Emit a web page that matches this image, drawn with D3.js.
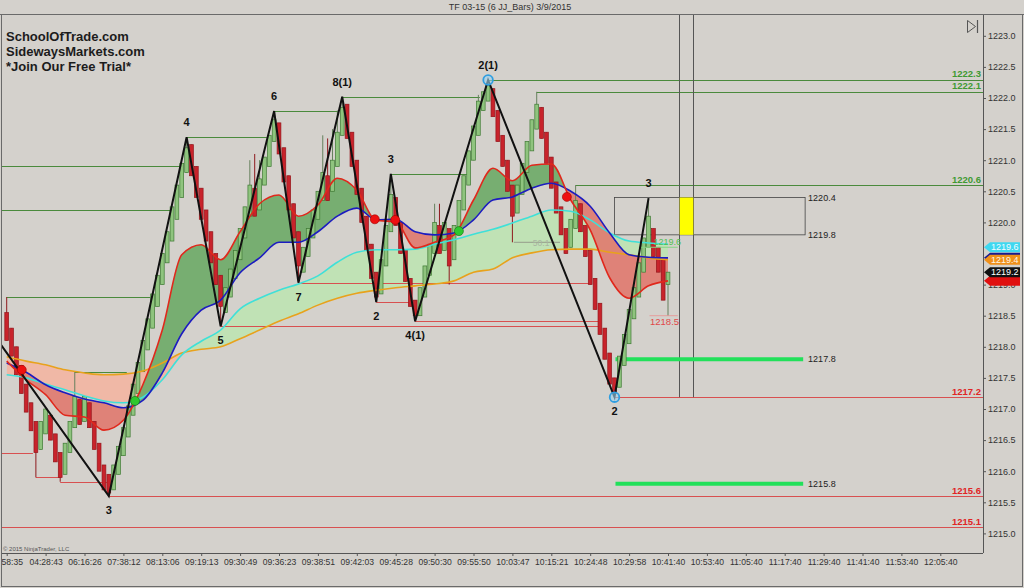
<!DOCTYPE html>
<html><head><meta charset="utf-8">
<script src="https://cdn.jsdelivr.net/npm/d3@7"></script>
<style>
html,body{margin:0;padding:0;background:#d4d1cc;}
svg{display:block;}
text{font-family:"Liberation Sans",Arial,sans-serif;}
</style></head><body>
<svg id="chart" width="1024" height="588"></svg>
<script>
// ---------------- DATA ----------------
const timeLabels = ["58:35","04:28:43","06:16:26","07:38:12","08:13:06","09:19:13","09:30:49","09:36:23","09:38:51","09:42:03","09:45:28","09:50:30","09:55:50","10:03:47","10:15:21","10:24:48","10:29:58","10:41:40","10:53:40","11:05:40","11:17:40","11:29:40","11:41:40","11:53:40","12:05:40"];
const tickBars = [0,8,16,24,32,40,48,56,64,72,80,88,96,104,112,120,128,136,144,152,160,168,176,184,192];
const priceTicks = [1215.0,1215.5,1216.0,1216.5,1217.0,1217.5,1218.0,1218.5,1219.0,1220.0,1220.5,1221.0,1221.5,1222.0,1222.5,1223.0];

const barOpen = [
1218.55,1218.30,1218.00,1217.70,1217.40,1217.10,1216.80,1216.35,1216.60,1216.90,
1216.60,1216.30,1215.95,1216.30,1216.70,1217.15,1216.80,1217.10,1216.80,1216.45,
1216.10,1215.95,1215.70,1215.95,1216.25,1216.55,1216.90,1217.25,1217.60,1217.95,
1218.30,1218.65,1219.00,1219.35,1219.70,1220.05,1220.40,1220.80,1221.25,1220.90,
1220.55,1220.20,1219.85,1219.50,1219.15,1218.55,1218.80,1219.10,1219.40,1219.75,
1220.10,1220.55,1220.20,1220.60,1220.90,1221.30,1221.60,1221.20,1220.75,1220.30,
1219.85,1219.20,1219.45,1219.75,1220.05,1220.35,1220.75,1220.50,1220.90,1221.40,
1221.90,1221.45,1221.00,1220.55,1220.10,1219.65,1219.20,1218.85,1219.30,1219.85,
1220.40,1220.00,1219.55,1219.10,1218.75,1218.50,1218.80,1219.15,1219.50,1219.95,
1219.55,1219.90,1219.40,1219.80,1220.20,1220.60,1221.00,1221.40,1221.80,1221.95,
1222.15,1221.80,1221.40,1221.00,1220.60,1220.15,1220.45,1220.80,1221.15,1221.50,
1221.85,1221.45,1221.05,1220.65,1220.25,1219.90,1219.60,1219.90,1220.30,1219.95,
1219.55,1219.10,1218.70,1218.30,1217.90,1217.50,1217.35,1217.70,1218.05,1218.45,
1218.80,1219.20,1219.60,1219.90,1219.60,1219.40,1219.00];
const barClose = [
1218.10,1217.85,1217.55,1217.25,1216.95,1216.65,1216.30,1216.80,1217.00,1216.50,
1216.15,1215.90,1216.45,1216.80,1217.20,1216.75,1217.20,1216.70,1216.35,1216.00,
1215.70,1215.65,1216.10,1216.40,1216.70,1217.05,1217.40,1217.75,1218.10,1218.45,
1218.85,1219.15,1219.50,1219.85,1220.25,1220.60,1220.95,1221.20,1220.75,1220.40,
1220.05,1219.70,1219.35,1219.00,1218.65,1218.95,1219.25,1219.55,1219.90,1220.25,
1220.60,1220.10,1220.70,1221.05,1221.40,1221.65,1221.10,1220.65,1220.20,1219.75,
1219.30,1219.60,1219.90,1220.20,1220.50,1220.80,1220.35,1221.00,1221.45,1221.85,
1221.35,1220.90,1220.45,1220.00,1219.55,1219.10,1218.80,1219.40,1219.95,1220.45,
1219.95,1219.50,1219.05,1218.65,1218.50,1218.95,1219.30,1219.65,1220.00,1219.50,
1220.00,1219.30,1219.95,1220.35,1220.75,1221.15,1221.55,1221.95,1222.10,1222.20,
1221.70,1221.30,1220.90,1220.50,1220.10,1220.60,1220.95,1221.30,1221.65,1221.90,
1221.35,1220.95,1220.55,1220.15,1219.80,1219.50,1220.05,1220.35,1219.85,1219.45,
1219.00,1218.60,1218.20,1217.80,1217.40,1217.25,1217.85,1218.20,1218.60,1218.95,
1219.35,1219.75,1220.10,1219.45,1219.20,1218.75,1219.20];
const wickBar  = [0,6,11,14,21,37,44,50,51,52,55,60,65,66,67,68,69,76,79,84,88,89,91,97,99,104,109,117,125,132,136];
const wickLow  = [1218.10,1215.90,1215.83,1216.70,1215.60,1220.80,1218.33,1220.10,1220.10,1220.20,1221.30,1219.03,1220.35,1220.35,1220.50,1220.90,1221.40,1218.72,1219.85,1218.41,1219.50,1219.50,1219.00,1221.40,1221.95,1219.68,1221.50,1219.90,1217.19,1219.60,1218.50];
const wickHigh = [1218.80,1216.80,1216.30,1217.60,1215.95,1221.37,1219.15,1221.00,1221.10,1221.00,1221.79,1219.85,1221.40,1221.35,1221.50,1221.80,1222.02,1219.20,1220.78,1218.75,1220.30,1220.30,1219.90,1222.05,1222.29,1220.60,1222.10,1220.60,1217.50,1220.39,1219.20];

const maBars   = [0,4,8,12,16,20,24,28,32,36,40,44,48,52,56,60,64,68,72,76,80,84,88,92,96,100,104,108,112,116,120,124,128,132,136];
const maRed    = [1217.77,1217.47,1217.23,1216.90,1216.87,1216.66,1216.82,1217.39,1218.27,1219.48,1219.64,1219.40,1219.85,1220.30,1220.44,1220.10,1220.28,1220.71,1220.52,1220.03,1220.01,1219.59,1219.68,1219.80,1220.36,1220.87,1220.67,1220.92,1220.94,1220.36,1219.88,1219.11,1218.78,1218.98,1219.06];
const maBlue   = [1217.74,1217.59,1217.39,1217.26,1217.16,1217.10,1217.02,1217.14,1217.58,1218.21,1218.59,1218.75,1219.19,1219.43,1219.68,1219.68,1219.85,1220.10,1220.23,1220.04,1220.05,1219.85,1219.80,1219.83,1220.04,1220.36,1220.41,1220.55,1220.63,1220.50,1220.26,1219.83,1219.48,1219.44,1219.43];
const maCyan   = [1217.55,1217.50,1217.40,1217.31,1217.21,1217.13,1217.10,1217.19,1217.47,1217.87,1218.09,1218.27,1218.61,1218.78,1218.91,1219.01,1219.14,1219.36,1219.52,1219.56,1219.56,1219.57,1219.65,1219.72,1219.81,1219.89,1219.99,1220.10,1220.20,1220.18,1220.04,1219.83,1219.70,1219.67,1219.65];
const maOrange = [1217.84,1217.77,1217.71,1217.63,1217.58,1217.55,1217.56,1217.61,1217.74,1217.90,1217.96,1218.00,1218.13,1218.27,1218.41,1218.53,1218.67,1218.78,1218.86,1218.91,1218.95,1218.98,1219.01,1219.06,1219.20,1219.25,1219.43,1219.51,1219.56,1219.57,1219.57,1219.52,1219.48,1219.43,1219.40];

const zzBars   = [-4,21,37,44,55,60,69,76,79,84,99,125,132];
const zzPrices = [1218.34,1215.60,1221.37,1218.33,1221.79,1219.03,1222.02,1218.72,1220.78,1218.41,1222.29,1217.19,1220.39];
const zzLabels = ["","3","4","5","6","7","8(1)","2","3","4(1)","2(1)","2","3"];

const slPrice = [1220.9,1220.2,1218.8,1217.6,1221.37,1221.79,1222.02,1220.78,1222.29,1222.1,1220.6, 1216.3,1215.9,1215.83,1215.6,1215.1,1218.33,1219.03,1218.72,1218.41,1217.19];
const slFrom  = [-3,-3,0,14,37,55,69,79,99,109,117, -3,6,11,21,-3,44,60,76,84,125];
const slTo    = [35.6,34.0,29.5,24.7,53.5,68.1,97.3,95,null,null,null, 5.4,11,21,null,null,122,120,83,122,null];
const slKind  = ["up","up","up","up","up","up","up","up","up","up","up","dn","dn","dn","dn","dn","dn","dn","dn","dn","dn"];

const redDotBars = [3.1,75.7,79.9,115.2];
const redDotPrices = [1217.63,1220.05,1220.04,1220.41];
const greenDotBars = [26.4,93.0];
const greenDotPrices = [1217.13,1219.86];
const pivotBars = [99,125];
const pivotPrices = [1222.29,1217.19];

const boxBars = [125,164.2];
const boxPrices = [1220.4,1219.8];
const targetPrices = [1217.8,1215.8];
const targetBars = [125.2,163.8];
const cursorBars = [138.3,141.1];
const cursorLow = 1217.19;

// right-axis price markers (blue and red sit under the others, their text is hidden)
const tagPrices = [1219.43,1219.6,1219.4,1219.06,1219.2];
const tagFill   = ["#1a1a90","#3fd8f0","#f0901a","#e01010","#111111"];
const tagText   = [null,"#f4fbff","#fff6e8",null,"#ffffff"];

// ---------------- LAYOUT ----------------
const P = {l:2, r:983, t:14, b:553};
const svg = d3.select("#chart");
const x = d3.scaleLinear().domain([0,192]).range([6.7,940.3]);
const y = d3.scaleLinear().domain([1215,1223]).range([533.4,35.8]);
const xEnd = x.invert(P.r);
const FONT = '"Liberation Sans",Arial,sans-serif';

svg.append("rect").attr("width",1024).attr("height",588).attr("fill","#d4d1cc");
const defs = svg.append("defs");
defs.append("clipPath").attr("id","plotClip").append("rect")
  .attr("x",P.l).attr("y",P.t).attr("width",P.r-P.l).attr("height",P.b-P.t);
const plot = svg.append("g").attr("clip-path","url(#plotClip)");

function bandFill(A, B, upColor, dnColor, id, op){
  const pts = maBars.map((b,i)=>({b, a:A[i], c:B[i]}));
  const curve = d3.curveMonotoneX;
  const ax = d => x(d.b);
  defs.append("clipPath").attr("id",id+"U").append("path")
    .attr("d", d3.area().x(ax).y0(P.t-10).y1(d=>y(d.c)).curve(curve)(pts));
  defs.append("clipPath").attr("id",id+"D").append("path")
    .attr("d", d3.area().x(ax).y0(P.t-10).y1(d=>y(d.a)).curve(curve)(pts));
  plot.append("g").attr("clip-path",`url(#${id}U)`).append("path")
    .attr("d", d3.area().x(ax).y0(d=>y(d.a)).y1(P.b+10).curve(curve)(pts))
    .attr("fill", upColor).attr("opacity",op);
  plot.append("g").attr("clip-path",`url(#${id}D)`).append("path")
    .attr("d", d3.area().x(ax).y0(d=>y(d.c)).y1(P.b+10).curve(curve)(pts))
    .attr("fill", dnColor).attr("opacity",op);
}
bandFill(maCyan, maOrange, "#c0e2b5", "#f0b8a6", "co", 1);
bandFill(maRed, maBlue, "#6aa864", "#e0766c", "rb", 0.88);

// swing lines
slPrice.forEach((p,i)=>{
  const x2 = slTo[i]===null ? xEnd : slTo[i];
  plot.append("line")
    .attr("x1",x(slFrom[i])).attr("x2",x(x2))
    .attr("y1",Math.round(y(p))+0.5).attr("y2",Math.round(y(p))+0.5)
    .attr("stroke", slKind[i]==="up" ? "#4a8a3c" : "#d85050").attr("stroke-width",1);
  if (slTo[i]===null){
    svg.append("text").attr("x",981).attr("y",y(p)-2.5).attr("text-anchor","end")
      .attr("font-size",9.5).attr("font-weight","bold").attr("font-family",FONT)
      .attr("fill", slKind[i]==="up" ? "#3f9a32" : "#e02424").text(p.toFixed(1));
  }
});

plot.append("line").attr("x1",x(104.3)).attr("x2",x(113.8)).attr("y1",y(1219.68)).attr("y2",y(1219.68))
  .attr("stroke","#8a8a80").attr("stroke-width",0.8);
plot.append("text").attr("x",x(108.2)).attr("y",y(1219.68)+3.5).attr("font-size",8.5).attr("fill","#a9b5a2").text("50.1");

// price box, cursor lines, yellow block, targets
plot.append("rect").attr("x",x(boxBars[0])).attr("y",y(boxPrices[0]))
  .attr("width",x(boxBars[1])-x(boxBars[0])).attr("height",y(boxPrices[1])-y(boxPrices[0]))
  .attr("fill","none").attr("stroke","#444").attr("stroke-width",0.8);
cursorBars.forEach(b=>{
  plot.append("line").attr("x1",Math.round(x(b))+0.5).attr("x2",Math.round(x(b))+0.5)
    .attr("y1",P.t).attr("y2",y(cursorLow)).attr("stroke","#555").attr("stroke-width",1);
});
plot.append("rect").attr("x",x(cursorBars[0])+0.5).attr("y",y(boxPrices[0]))
  .attr("width",x(cursorBars[1])-x(cursorBars[0])).attr("height",y(boxPrices[1])-y(boxPrices[0]))
  .attr("fill","#ffff00");
targetPrices.forEach(p=>{
  plot.append("line").attr("x1",x(targetBars[0])).attr("x2",x(targetBars[1]))
    .attr("y1",y(p)).attr("y2",y(p)).attr("stroke","#22e05a").attr("stroke-width",4);
});
boxPrices.concat(targetPrices).forEach(p=>{
  svg.append("text").attr("x",x(boxBars[1])+3).attr("y",y(p)+3.2)
    .attr("font-size",9).attr("font-family",FONT).attr("fill","#222").text(p.toFixed(1));
});

// bars
const bars = barOpen.map((o,i)=>({i,o,c:barClose[i],h:Math.max(o,barClose[i]),l:Math.min(o,barClose[i])}));
wickBar.forEach((b,k)=>{ bars[b].h = wickHigh[k]; bars[b].l = wickLow[k]; });
const bw = 3.8;
plot.append("g").selectAll("line").data(bars).join("line")
  .attr("x1",d=>x(d.i)).attr("x2",d=>x(d.i)).attr("y1",d=>y(d.h)).attr("y2",d=>y(d.l))
  .attr("stroke",d=>d.c>=d.o ? "#66805e" : "#8e1a1e").attr("stroke-width",1);
plot.append("g").selectAll("rect").data(bars).join("rect")
  .attr("x",d=>x(d.i)-bw/2).attr("width",bw)
  .attr("y",d=>y(Math.max(d.o,d.c))).attr("height",d=>Math.max(1,y(Math.min(d.o,d.c))-y(Math.max(d.o,d.c))))
  .attr("fill",d=>d.c>=d.o ? "#8fc47e" : "#c8232b")
  .attr("stroke",d=>d.c>=d.o ? "#3f7a34" : "#94161c").attr("stroke-width",0.7);

// moving averages
const maLine = arr => d3.line().x((d,i)=>x(maBars[i])).y(d=>y(d)).curve(d3.curveMonotoneX)(arr);
[[maOrange,"#e8a21c"],[maCyan,"#3fe0d8"],[maBlue,"#1c1cc0"],[maRed,"#e0281c"]].forEach(([arr,col])=>{
  plot.append("path").attr("d",maLine(arr)).attr("fill","none").attr("stroke",col).attr("stroke-width",1.6);
});

plot.append("line").attr("x1",x(130)).attr("x2",x(138)).attr("y1",y(1219.6)).attr("y2",y(1219.6))
  .attr("stroke","#86d486").attr("stroke-width",1);
plot.append("text").attr("x",x(133)).attr("y",y(1219.6)-2).attr("font-size",9).attr("fill","#52c052").text("1219.6");
plot.append("line").attr("x1",x(132.2)).attr("x2",x(138)).attr("y1",y(1218.5)).attr("y2",y(1218.5))
  .attr("stroke","#e89090").attr("stroke-width",0.8);
plot.append("text").attr("x",x(132.3)).attr("y",y(1218.5)+9).attr("font-size",9.5).attr("fill","#e04848").text("1218.5");

// zigzag
const zz = zzBars.map((b,i)=>({b,p:zzPrices[i],t:zzLabels[i]}));
plot.append("path").attr("d",d3.line().x(d=>x(d.b)).y(d=>y(d.p))(zz))
  .attr("fill","none").attr("stroke","#111").attr("stroke-width",2);
zz.forEach((d,i)=>{
  if(!d.t) return;
  const up = d.p > zz[i-1].p;
  svg.append("text").attr("x",x(d.b)).attr("y",up ? y(d.p)-11 : y(d.p)+18)
    .attr("text-anchor","middle").attr("font-size",11).attr("font-weight","bold")
    .attr("font-family",FONT).attr("fill","#111").text(d.t);
});

// dots
redDotBars.forEach((b,i)=>plot.append("circle").attr("cx",x(b)).attr("cy",y(redDotPrices[i])).attr("r",4.5)
  .attr("fill","#ee1010").attr("stroke","#a00000").attr("stroke-width",0.6));
greenDotBars.forEach((b,i)=>plot.append("circle").attr("cx",x(b)).attr("cy",y(greenDotPrices[i])).attr("r",4.5)
  .attr("fill","#2ec82e").attr("stroke","#107010").attr("stroke-width",0.6));
pivotBars.forEach((b,i)=>plot.append("circle").attr("cx",x(b)).attr("cy",y(pivotPrices[i])).attr("r",4.8)
  .attr("fill","#9dd4f2").attr("fill-opacity",0.6).attr("stroke","#2f9ee0").attr("stroke-width",1.8));

// axes
svg.append("line").attr("x1",P.l).attr("x2",P.r).attr("y1",P.b+0.5).attr("y2",P.b+0.5).attr("stroke","#555");
svg.append("line").attr("x1",P.r+0.5).attr("x2",P.r+0.5).attr("y1",P.t).attr("y2",P.b).attr("stroke","#555");
const gx = svg.append("g").attr("transform",`translate(0,${P.b})`)
  .call(d3.axisBottom(x).tickValues(tickBars).tickFormat((d,i)=>timeLabels[i]).tickSize(3).tickPadding(3));
gx.select(".domain").remove();
gx.attr("font-family",FONT).attr("font-size",8.6);
gx.selectAll("text").attr("fill","#333");
gx.selectAll("line").attr("stroke","#555");
gx.select(".tick text").attr("text-anchor","start").attr("x",-x(0)+1);
const gy = svg.append("g").attr("transform",`translate(${P.r},0)`)
  .call(d3.axisRight(y).tickValues(priceTicks).tickFormat(d3.format(".1f")).tickSize(3).tickPadding(2));
gy.select(".domain").remove();
gy.attr("font-family",FONT).attr("font-size",9);
gy.selectAll("text").attr("fill","#333");
gy.selectAll("line").attr("stroke","#555");

// price tags
tagPrices.forEach((p,i)=>{
  const ty = y(p);
  svg.append("path").attr("d",`M${P.r+1},${ty} L${P.r+7},${ty-5} L1020,${ty-5} L1020,${ty+5} L${P.r+7},${ty+5} Z`)
    .attr("fill",tagFill[i]);
  if (tagText[i]) svg.append("text").attr("x",P.r+8).attr("y",ty+3.2).attr("font-size",9).attr("font-family",FONT)
    .attr("fill",tagText[i]).text(p.toFixed(1));
});

// frame
svg.append("line").attr("x1",0).attr("x2",1024).attr("y1",14.5).attr("y2",14.5).attr("stroke","#6a6a6a");
svg.append("line").attr("x1",1.5).attr("x2",1.5).attr("y1",14).attr("y2",587).attr("stroke","#6a6a6a");
svg.append("line").attr("x1",1022.5).attr("x2",1022.5).attr("y1",14).attr("y2",587).attr("stroke","#6a6a6a");
svg.append("line").attr("x1",1).attr("x2",1023).attr("y1",586.5).attr("y2",586.5).attr("stroke","#6a6a6a");

// texts
svg.append("text").attr("x",510).attr("y",10).attr("text-anchor","middle").attr("font-size",9)
  .attr("font-family",FONT).attr("fill","#333").text("TF 03-15 (6 JJ_Bars)  3/9/2015");
["SchoolOfTrade.com","SidewaysMarkets.com","*Join Our Free Trial*"].forEach((t,i)=>{
  svg.append("text").attr("x",6).attr("y",41+i*15).attr("font-size",13).attr("font-weight","bold")
    .attr("font-family",FONT).attr("fill","#1c1c1c").text(t);
});
svg.append("text").attr("x",3).attr("y",551).attr("font-size",6).attr("font-family",FONT)
  .attr("fill","#555").text("© 2015 NinjaTrader, LLC");
svg.append("path").attr("d","M967.5,20.5 L975.5,26.5 L967.5,32.5 Z").attr("fill","none").attr("stroke","#555").attr("stroke-width",1);
svg.append("line").attr("x1",977.5).attr("x2",977.5).attr("y1",20).attr("y2",33).attr("stroke","#555").attr("stroke-width",1.2);
</script></body></html>
